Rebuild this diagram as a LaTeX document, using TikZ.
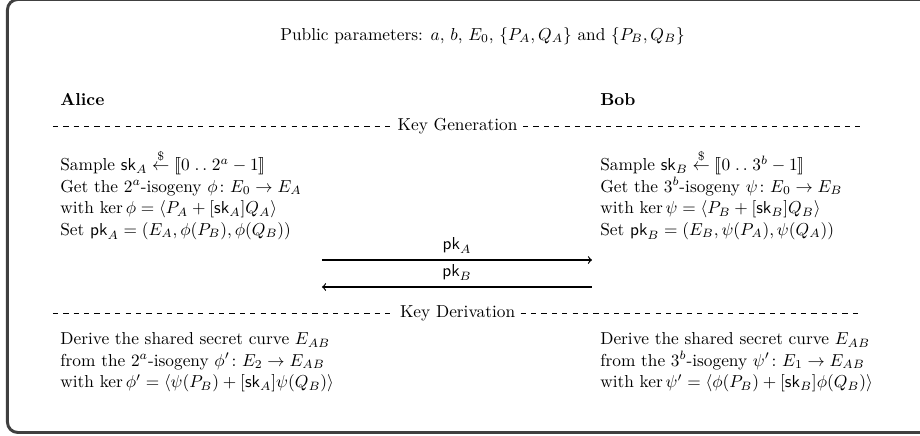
\documentclass[tikz,border=0pt]{standalone}
\usepackage{amsmath,amssymb}
\usepackage{stmaryrd}
\usetikzlibrary{arrows, calc, positioning}
\newcommand{\sk}{\mathsf{sk}}
\newcommand{\pk}{\mathsf{pk}}
\renewcommand{\arraystretch}{1.04}
\tikzstyle{party}= [font=\bfseries, anchor=west, inner sep=0pt]
\tikzstyle{steps}= [anchor=north west, inner sep=0pt]
\tikzstyle{phase}= [inner sep=3pt]
\tikzstyle{rule}= [dashed, line width=0.4pt]
\tikzstyle{msg}= [line width=0.7pt]

\begin{document}
\begin{tikzpicture}[x=1pt,y=1pt,>=to]
    \clip (0,0) rectangle (531.8,-252);
    % outer frame, cut off at the top and on the right
    \draw[black!75, line width=1.7pt, rounded corners=6pt] (4.3,-250) rectangle (545,0.3);

    \node (params) at (278.9,-20.8) {Public parameters: $a$, $b$, $E_0$, $\{P_A,Q_A\}$ and $\{P_B,Q_B\}$};

    \node [party] (alice) at (34.7,-57.8) {Alice};
    \node [party] (bob) at (346.8,-57.8) {Bob};

    % key generation
    \node [phase] (keygen) at (264.5,-72.8) {Key Generation};
    \coordinate (genL) at (30.6,-72.8);
    \coordinate (genR) at (498.3,-72.8);
    \draw[rule] (genL) -- (keygen.west);
    \draw[rule] (keygen.east) -- (genR);

    \node [steps] (aliceGen) at (34.7,-86.5) {\begin{tabular}{@{}l@{}}
        Sample $\sk_A \stackrel{\$}{\leftarrow} \llbracket 0 \mathrel{.\,.} 2^a-1 \rrbracket$\\
        Get the $2^a$-isogeny $\phi\colon E_0\to E_A$\\
        with $\ker\phi = \langle P_A + [\sk_A]Q_A\rangle$\\
        Set $\pk_A = (E_A,\phi(P_B),\phi(Q_B))$
    \end{tabular}};
    \node [steps] (bobGen) at (346.8,-86.5) {\begin{tabular}{@{}l@{}}
        Sample $\sk_B \stackrel{\$}{\leftarrow} \llbracket 0 \mathrel{.\,.} 3^b-1 \rrbracket$\\
        Get the $3^b$-isogeny $\psi\colon E_0\to E_B$\\
        with $\ker\psi = \langle P_B + [\sk_B]Q_B\rangle$\\
        Set $\pk_B = (E_B,\psi(P_A),\psi(Q_A))$
    \end{tabular}};

    % exchanged public keys
    \coordinate (sendL) at (186.1,-150.3);
    \coordinate (sendR) at (342.2,-150.3);
    \coordinate (recvL) at (186.1,-165.9);
    \coordinate (recvR) at (342.2,-165.9);
    \draw[->, msg] (sendL) -- node[above] {$\pk_A$} (sendR);
    \draw[<-, msg] (recvL) -- node[above] {$\pk_B$} (recvR);

    % key derivation
    \node [phase] (keyder) at (264.5,-180.9) {Key Derivation};
    \coordinate (derL) at (30.6,-180.9);
    \coordinate (derR) at (498.3,-180.9);
    \draw[rule] (derL) -- (keyder.west);
    \draw[rule] (keyder.east) -- (derR);

    \node [steps] (aliceDer) at (34.7,-190.2) {\begin{tabular}{@{}l@{}}
        Derive the shared secret curve $E_{AB}$\\
        from the $2^a$-isogeny $\phi'\colon E_2\to E_{AB}$\\
        with $\ker\phi' = \langle\psi(P_B)+[\sk_A]\psi(Q_B)\rangle$
    \end{tabular}};
    \node [steps] (bobDer) at (346.8,-190.2) {\begin{tabular}{@{}l@{}}
        Derive the shared secret curve $E_{AB}$\\
        from the $3^b$-isogeny $\psi'\colon E_1\to E_{AB}$\\
        with $\ker\psi' = \langle\phi(P_B)+[\sk_B]\phi(Q_B)\rangle$
    \end{tabular}};

\end{tikzpicture}
\end{document}
